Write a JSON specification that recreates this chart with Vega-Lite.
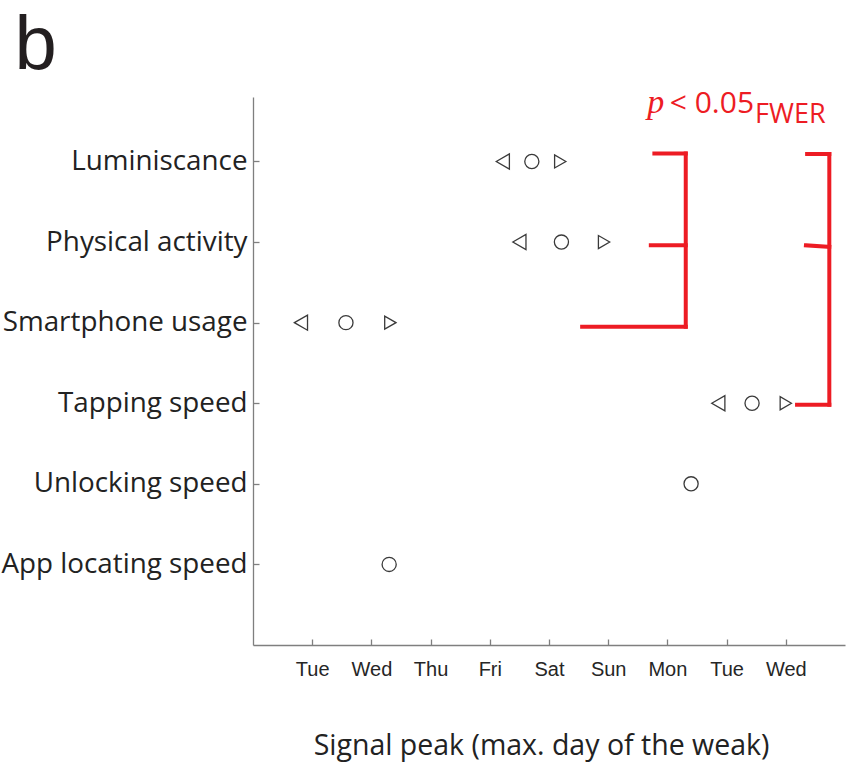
{
  "$schema": "https://vega.github.io/schema/vega-lite/v6.json",
  "width": 592,
  "height": 548,
  "autosize": "none",
  "padding": {"left": 253, "top": 97, "right": 4, "bottom": 122},
  "background": "white",
  "config": {"view": {"stroke": null}, "axis": {"grid": false}},
  "datasets": {
    "peaks": [
      {"measure": "Luminiscance", "row": 1, "kind": "lower", "day": 4.22},
      {"measure": "Luminiscance", "row": 1, "kind": "peak", "day": 4.71},
      {"measure": "Luminiscance", "row": 1, "kind": "upper", "day": 5.19},
      {"measure": "Physical activity", "row": 2, "kind": "lower", "day": 4.5},
      {"measure": "Physical activity", "row": 2, "kind": "peak", "day": 5.21},
      {"measure": "Physical activity", "row": 2, "kind": "upper", "day": 5.93},
      {"measure": "Smartphone usage", "row": 3, "kind": "lower", "day": 0.81},
      {"measure": "Smartphone usage", "row": 3, "kind": "peak", "day": 1.57},
      {"measure": "Smartphone usage", "row": 3, "kind": "upper", "day": 2.32},
      {"measure": "Tapping speed", "row": 4, "kind": "lower", "day": 7.86},
      {"measure": "Tapping speed", "row": 4, "kind": "peak", "day": 8.43},
      {"measure": "Tapping speed", "row": 4, "kind": "upper", "day": 9.0},
      {"measure": "Unlocking speed", "row": 5, "kind": "peak", "day": 7.4},
      {"measure": "App locating speed", "row": 6, "kind": "peak", "day": 2.3}
    ],
    "brackets": [
      {"x": 6.78, "x2": 7.31, "y": 0.9, "y2": 0.9},
      {"x": 7.31, "x2": 7.31, "y": 0.9, "y2": 3.05},
      {"x": 6.72, "x2": 7.31, "y": 2.04, "y2": 2.04},
      {"x": 5.56, "x2": 7.31, "y": 3.05, "y2": 3.05},
      {"x": 9.36, "x2": 9.735, "y": 0.907, "y2": 0.907},
      {"x": 9.735, "x2": 9.735, "y": 0.907, "y2": 4.02},
      {"x": 9.34, "x2": 9.735, "y": 2.04, "y2": 2.06},
      {"x": 9.19, "x2": 9.735, "y": 4.02, "y2": 4.02}
    ]
  },
  "layer": [
    {
      "data": {"name": "brackets"},
      "mark": {"type": "rule", "color": "#ed1c24", "strokeWidth": 4, "strokeCap": "square"},
      "encoding": {
        "x": {"field": "x", "type": "quantitative", "scale": {"domain": [0, 10], "nice": false, "zero": false}},
        "x2": {"field": "x2"},
        "y": {"field": "y", "type": "quantitative", "scale": {"domain": [0.2, 7], "reverse": true, "nice": false, "zero": false}},
        "y2": {"field": "y2"}
      }
    },
    {
      "data": {"name": "peaks"},
      "mark": {"type": "point", "filled": false, "stroke": "#3a3a3a", "strokeWidth": 1.3, "opacity": 1},
      "encoding": {
        "x": {
          "field": "day", "type": "quantitative",
          "scale": {"domain": [0, 10], "nice": false, "zero": false},
          "axis": {
            "values": [1, 2, 3, 4, 5, 6, 7, 8, 9],
            "labelExpr": "['','Tue','Wed','Thu','Fri','Sat','Sun','Mon','Tue','Wed'][datum.value]",
            "domainColor": "#7f7f7f", "domainWidth": 1.3,
            "tickColor": "#7f7f7f", "tickWidth": 1.3, "tickSize": -6,
            "labelFont": "Liberation Sans", "labelFontSize": 20, "labelColor": "#262626",
            "labelPadding": 20,
            "title": "Signal peak (max. day of the weak)",
            "titleFont": "Open Sans", "titleFontSize": 28.5, "titleFontWeight": "normal",
            "titleColor": "#222222", "titlePadding": 52, "titleX": 288
          }
        },
        "y": {
          "field": "row", "type": "quantitative",
          "scale": {"domain": [0.2, 7], "reverse": true, "nice": false, "zero": false},
          "axis": {
            "values": [1, 2, 3, 4, 5, 6],
            "labelExpr": "['','Luminiscance','Physical activity','Smartphone usage','Tapping speed','Unlocking speed','App locating speed'][datum.value]",
            "domainColor": "#7f7f7f", "domainWidth": 1.3,
            "tickColor": "#7f7f7f", "tickWidth": 1.3, "tickSize": -6,
            "labelFont": "Open Sans", "labelFontSize": 27.8, "labelColor": "#222222",
            "labelPadding": 12, "labelLimit": 0,
            "title": null
          }
        },
        "shape": {
          "field": "kind", "type": "nominal",
          "scale": {"domain": ["lower", "peak", "upper"], "range": ["triangle-left", "circle", "triangle-right"]},
          "legend": null
        },
        "size": {
          "field": "kind", "type": "nominal",
          "scale": {"domain": ["lower", "peak", "upper"], "range": [230, 170, 230]},
          "legend": null
        }
      }
    },
    {
      "data": {"values": [{}]},
      "mark": {"type": "text", "text": "b", "font": "Liberation Sans", "fontSize": 76, "color": "#231f20", "align": "left", "baseline": "alphabetic"},
      "encoding": {"x": {"datum": -4.03, "type": "quantitative"}, "y": {"datum": -0.147, "type": "quantitative"}}
    },
    {
      "data": {"values": [{}]},
      "mark": {"type": "text", "text": "p", "font": "Liberation Serif", "fontStyle": "italic", "fontSize": 34, "color": "#ed1c24", "align": "left", "baseline": "alphabetic"},
      "encoding": {"x": {"datum": 6.66, "type": "quantitative"}, "y": {"datum": 0.399, "type": "quantitative"}}
    },
    {
      "data": {"values": [{}]},
      "mark": {"type": "text", "text": "< 0.05", "font": "Open Sans", "fontSize": 30, "color": "#ed1c24", "align": "left", "baseline": "alphabetic"},
      "encoding": {"x": {"datum": 7.04, "type": "quantitative"}, "y": {"datum": 0.399, "type": "quantitative"}}
    },
    {
      "data": {"values": [{}]},
      "mark": {"type": "text", "text": "FWER", "font": "Open Sans", "fontSize": 27, "color": "#ed1c24", "align": "left", "baseline": "alphabetic"},
      "encoding": {"x": {"datum": 8.48, "type": "quantitative"}, "y": {"datum": 0.519, "type": "quantitative"}}
    }
  ]
}
